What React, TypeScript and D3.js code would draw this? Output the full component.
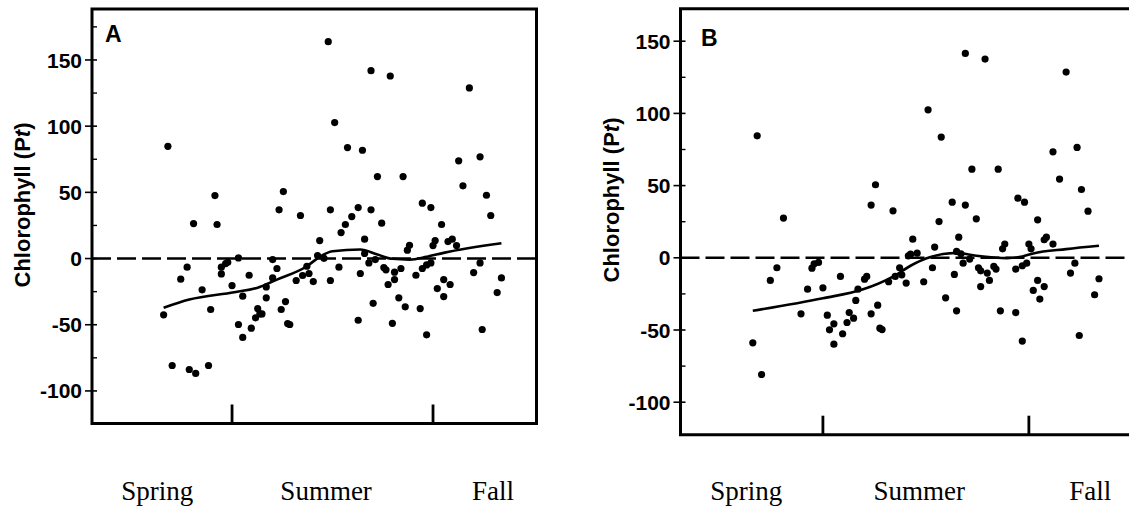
import React from "react";
import * as d3 from "d3";

// Chlorophyll anomaly (Pt) against day of year, two model variants.
const seasons = ["Spring", "Summer", "Fall"];
const seasonCentres = [137, 216, 294]; // day of year where each season label sits
const seasonBreaks = [172, 266]; // solstice / equinox
const majorTicks = [-100, -50, 0, 50, 100, 150];
const minorTicks = [-125, -75, -25, 25, 75, 125, 175];

// [day of year, Pt]
const pointsA: [number, number][] = [
  [142, 84.8], [164, 47.6], [196, 50.6], [194, 36.8], [204, 32.5],
  [217, 163.8], [237, 141.9], [246, 137.9], [283, 128.9], [220, 102.7], [226, 83.8], [233, 81.8],
  [278, 73.8], [288, 76.8], [240, 61.9], [252, 61.9], [280, 54.9], [291, 47.8], [261, 41.8],
  [265, 38.5], [218, 36.8], [231, 38.5], [237, 36.8], [228, 31.7], [293, 32.5],
  [154, 26.4], [165, 25.7], [213, 13.6], [175, 0.5], [170, -2.8], [169, -3.8], [167, -6.5],
  [151, -6.5], [191, -0.8], [193, -7.5], [212, 2.3], [207, -5.8], [205, -12.8], [208, -11.3],
  [210, -17.4], [202, -16.6], [148, -15.6], [167, -11.6], [180, -12.6], [191, -14.6], [172, -20.4],
  [188, -21.4], [158, -23.6], [177, -28.4], [188, -29.7], [197, -32.5], [184, -37.8], [195, -38.5],
  [162, -38.5], [183, -44.8], [185, -41.8], [186, -41.8], [140, -42.5], [175, -49.8], [181, -52.6],
  [198, -49.1], [199, -49.8], [177, -59.6], [144, -80.8], [152, -83.8], [155, -86.8], [161, -80.8],
  [225, 25.7], [223, 19.6], [242, 26.7], [270, 25.7], [234, 14.6], [273, 12.8], [275, 14.6],
  [277, 9.8], [267, 13.6], [266, 9.8], [255, 10.0], [254, 6.3], [215, 0.2], [234, 3.8], [236, -3.3],
  [239, -0.8], [222, -6.5], [243, -6.8], [244, -8.5], [248, -10.3], [251, -7.5], [248, -15.9],
  [245, -19.6], [232, -11.3], [218, -16.6], [258, -12.6], [261, -7.5], [263, -4.8], [265, -3.3],
  [285, -10.6], [288, -3.3], [298, -14.6], [296, -25.7], [271, -15.9], [268, -22.7], [274, -19.6],
  [271, -28.7], [250, -29.7], [253, -36.5], [260, -37.8], [238, -33.8], [231, -46.6], [247, -48.9],
  [263, -57.6], [289, -53.6],
];

const smoothA: [number, number][] = [
  [140, -37.2], [152, -31], [173, -25.4], [184, -22], [193, -15.9], [207, -5.8], [213, 1.3],
  [219, 5.5], [232, 6.8], [240, 3.0], [247, -0.2], [255, -0.8], [263, 1.3], [271, 4.3], [298, 11.5],
];

const pointsB: [number, number][] = [
  [142, 84.5], [196, 50.6], [194, 36.5], [204, 32.5], [154, 27.5],
  [237, 141.5], [246, 137.6], [283, 128.6], [220, 102.5], [226, 83.6], [277, 73.4], [288, 76.4],
  [240, 61.4], [252, 61.4], [280, 54.5], [290, 47.3], [261, 41.3], [264, 38.5], [231, 38.5],
  [237, 36.5], [293, 32.3], [225, 25.1], [242, 27.0], [270, 26.3],
  [213, 12.9], [211, 1.4], [170, -3.2], [168, -4.2], [167, -7.2], [151, -6.9], [148, -15.7],
  [165, -21.7], [172, -20.8], [180, -12.9], [191, -14.8], [192, -12.9], [188, -21.7], [187, -29.5],
  [197, -32.8], [194, -38.8], [207, -6.9], [205, -12.9], [208, -11.8], [210, -17.5], [202, -16.6],
  [162, -38.8], [174, -39.7], [177, -45.7], [175, -49.9], [184, -37.9], [186, -41.8], [183, -44.8],
  [181, -52.6], [177, -59.8], [198, -48.7], [199, -49.7], [140, -58.9], [144, -80.8],
  [234, 14.3], [223, 7.4], [255, 9.5], [254, 6.2], [266, 9.5], [267, 6.2], [273, 12.5], [274, 14.3],
  [277, 9.5], [212, 2.5], [215, 3.2], [233, 4.4], [235, 2.8], [239, -0.9], [236, -3.7], [222, -6.9],
  [218, -16.6], [232, -11.5], [243, -6.9], [244, -9.0], [247, -10.6], [250, -6.0], [251, -7.8],
  [244, -19.9], [248, -15.7], [228, -27.7], [233, -36.7], [253, -36.7], [260, -37.9], [260, -7.8],
  [263, -5.5], [265, -3.7], [287, -3.7], [285, -10.6], [298, -14.5], [296, -25.6], [270, -15.7],
  [268, -22.6], [273, -19.9], [271, -28.6], [263, -57.7], [289, -53.8],
];

const smoothB: [number, number][] = [
  [140, -36.7], [172, -28], [190, -22], [204, -13], [212, -5.5], [219, -0.5], [233, 3.3],
  [242, 1.4], [256, -0.2], [263, 0.9], [268, 3], [283, 6], [298, 8.3],
];

const SANS = "'Liberation Sans', Arial, Helvetica, sans-serif";
const SERIF = "'Liberation Serif', 'Times New Roman', serif";

type PanelProps = {
  label: string;
  points: [number, number][];
  smooth: [number, number][];
  xDomain: [number, number];
  yDomain: [number, number];
  left: number;
  right: number;
  top: number;
  bottom: number;
  closedRight: boolean;
  titleX: number;
  titleY: number;
  yLabelX: number;
  yLabelY: number;
};

function Panel(p: PanelProps) {
  const x = d3.scaleLinear().domain(p.xDomain).range([p.left, p.right]);
  const y = d3.scaleLinear().domain(p.yDomain).range([p.bottom, p.top]);
  const line = d3
    .line<[number, number]>()
    .x((d) => x(d[0]))
    .y((d) => y(d[1]))
    .curve(d3.curveMonotoneX);
  const [lo, hi] = p.yDomain;
  const frame = p.closedRight
    ? `M${p.left},${p.top}H${p.right}V${p.bottom}H${p.left}Z`
    : `M${p.right + 20},${p.top}H${p.left}V${p.bottom}H${p.right + 20}`;

  return (
    <g>
      {/* zero reference */}
      <line
        x1={p.left}
        x2={p.closedRight ? p.right : p.right + 20}
        y1={y(0)}
        y2={y(0)}
        stroke="#000"
        strokeWidth={2.6}
        strokeDasharray="19 6"
      />
      {p.points.map((d, i) => (
        <circle key={i} cx={x(d[0])} cy={y(d[1])} r={3.6} fill="#000" />
      ))}
      <path d={line(p.smooth) || ""} fill="none" stroke="#000" strokeWidth={2.6} />

      {/* y ticks */}
      {majorTicks
        .filter((t) => t > lo && t < hi)
        .map((t) => (
          <g key={"M" + t}>
            <line x1={p.left - 7} x2={p.left + 5} y1={y(t)} y2={y(t)} stroke="#000" strokeWidth={1.6} />
            <text
              x={p.left - 10}
              y={y(t)}
              dy="0.36em"
              textAnchor="end"
              fontFamily={SANS}
              fontWeight="bold"
              fontSize={21}
            >
              {t}
            </text>
          </g>
        ))}
      {minorTicks
        .filter((t) => t > lo && t < hi)
        .map((t) => (
          <line key={"m" + t} x1={p.left} x2={p.left + 5} y1={y(t)} y2={y(t)} stroke="#000" strokeWidth={1.4} />
        ))}

      {/* season boundaries */}
      {seasonBreaks.map((d) => (
        <line key={d} x1={x(d)} x2={x(d)} y1={p.bottom} y2={p.bottom - 19} stroke="#000" strokeWidth={2.8} />
      ))}

      <path d={frame} fill="none" stroke="#000" strokeWidth={3} />

      {seasons.map((s, i) => (
        <text
          key={s}
          x={x(seasonCentres[i])}
          y={500}
          textAnchor="middle"
          fontFamily={SERIF}
          fontSize={27}
        >
          {s}
        </text>
      ))}

      <text x={p.titleX} y={p.titleY} fontFamily={SANS} fontWeight="bold" fontSize={23}>
        {p.label}
      </text>

      <text
        transform={`translate(${p.yLabelX},${p.yLabelY}) rotate(-90)`}
        textAnchor="middle"
        fontFamily={SANS}
        fontWeight="bold"
        fontSize={22}
      >
        Chlorophyll (P<tspan fontStyle="italic">t</tspan>)
      </text>
    </g>
  );
}

export default function App() {
  return (
    <svg
      width={1129}
      height={508}
      viewBox="0 0 1129 508"
      style={{ position: "absolute", left: 0, top: 0, background: "#fff" }}
    >
      <rect width={1129} height={508} fill="#fff" />
      <Panel
        label="A"
        points={pointsA}
        smooth={smoothA}
        xDomain={[106.5, 314.4]}
        yDomain={[-124.6, 188.5]}
        left={92}
        right={536.5}
        top={9}
        bottom={423.5}
        closedRight={true}
        titleX={105}
        titleY={42}
        yLabelX={30}
        yLabelY={205}
      />
      <Panel
        label="B"
        points={pointsB}
        smooth={smoothB}
        xDomain={[107, 311.7]}
        yDomain={[-122.5, 172.5]}
        left={680.5}
        right={1129}
        top={8.7}
        bottom={434.7}
        closedRight={false}
        titleX={701}
        titleY={46}
        yLabelX={619}
        yLabelY={200}
      />
    </svg>
  );
}
